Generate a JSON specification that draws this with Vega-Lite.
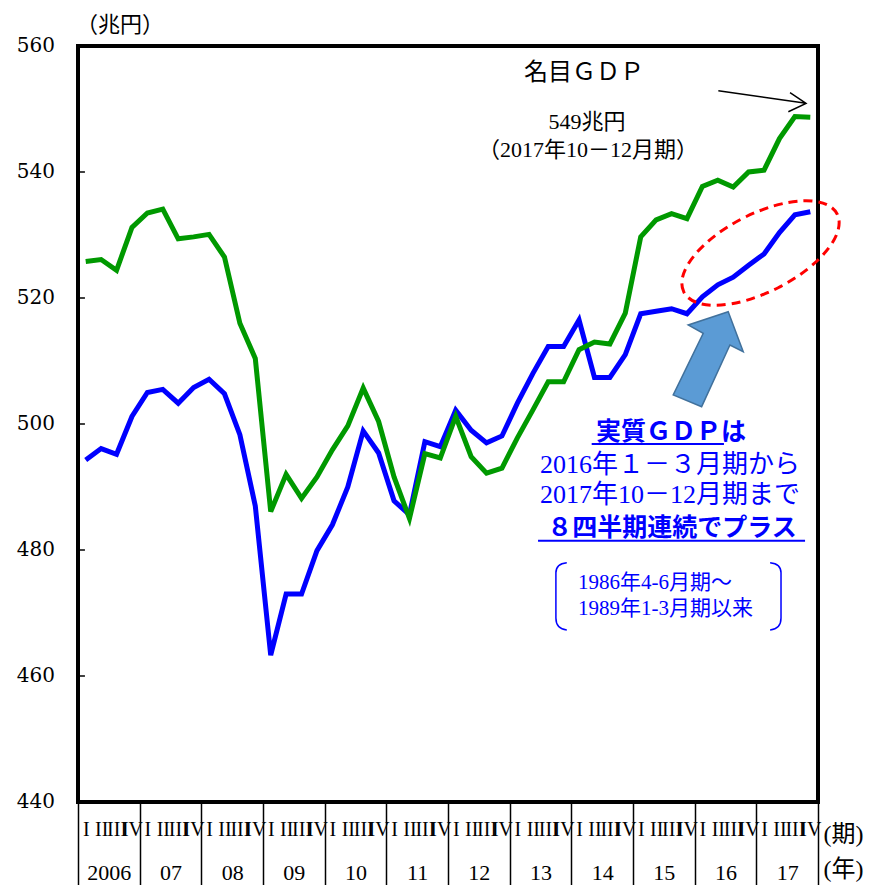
{
  "$schema": "https://vega.github.io/schema/vega-lite/v6.json",
  "width": 740,
  "height": 756,
  "autosize": {"type": "none"},
  "padding": {"left": 78, "top": 46, "right": 57, "bottom": 83},
  "background": "white",
  "config": {
    "view": {"stroke": "#000000", "strokeWidth": 4},
    "axis": {"labelFont": "Liberation Serif", "labelColor": "#000000", "grid": false, "domain": false}
  },
  "datasets": {
    "real": [
      {"x":0.5,"y":494.3},{"x":1.5,"y":496.1},{"x":2.5,"y":495.2},{"x":3.5,"y":501.2},
      {"x":4.5,"y":505.0},{"x":5.5,"y":505.5},{"x":6.5,"y":503.3},{"x":7.5,"y":505.8},
      {"x":8.5,"y":507.1},{"x":9.5,"y":504.8},{"x":10.5,"y":498.3},{"x":11.5,"y":487.0},
      {"x":12.5,"y":463.3},{"x":13.5,"y":473.0},{"x":14.5,"y":473.0},{"x":15.5,"y":479.9},
      {"x":16.5,"y":484.0},{"x":17.5,"y":490.0},{"x":18.5,"y":498.9},{"x":19.5,"y":495.4},
      {"x":20.5,"y":487.8},{"x":21.5,"y":485.6},{"x":22.5,"y":497.2},{"x":23.5,"y":496.4},
      {"x":24.5,"y":502.2},{"x":25.5,"y":499.0},{"x":26.5,"y":497.0},{"x":27.5,"y":498.1},
      {"x":28.5,"y":503.3},{"x":29.5,"y":508.0},{"x":30.5,"y":512.3},{"x":31.5,"y":512.3},
      {"x":32.5,"y":516.5},{"x":33.5,"y":507.4},{"x":34.5,"y":507.4},{"x":35.5,"y":511.0},
      {"x":36.5,"y":517.5},{"x":37.5,"y":517.9},{"x":38.5,"y":518.3},{"x":39.5,"y":517.5},
      {"x":40.5,"y":520.2},{"x":41.5,"y":522.1},{"x":42.5,"y":523.3},{"x":43.5,"y":525.2},
      {"x":44.5,"y":527.0},{"x":45.5,"y":530.4},{"x":46.5,"y":533.2},{"x":47.5,"y":533.7}
    ],
    "nominal": [
      {"x":0.5,"y":525.8},{"x":1.5,"y":526.1},{"x":2.5,"y":524.4},{"x":3.5,"y":531.2},
      {"x":4.5,"y":533.5},{"x":5.5,"y":534.1},{"x":6.5,"y":529.4},{"x":7.5,"y":529.7},
      {"x":8.5,"y":530.1},{"x":9.5,"y":526.5},{"x":10.5,"y":516.0},{"x":11.5,"y":510.4},
      {"x":12.5,"y":486.1},{"x":13.5,"y":492.0},{"x":14.5,"y":488.2},{"x":15.5,"y":491.6},
      {"x":16.5,"y":495.9},{"x":17.5,"y":499.7},{"x":18.5,"y":505.7},{"x":19.5,"y":500.4},
      {"x":20.5,"y":491.6},{"x":21.5,"y":485.0},{"x":22.5,"y":495.3},{"x":23.5,"y":494.6},
      {"x":24.5,"y":501.2},{"x":25.5,"y":494.8},{"x":26.5,"y":492.2},{"x":27.5,"y":493.0},
      {"x":28.5,"y":497.8},{"x":29.5,"y":502.2},{"x":30.5,"y":506.7},{"x":31.5,"y":506.7},
      {"x":32.5,"y":511.8},{"x":33.5,"y":513.0},{"x":34.5,"y":512.7},{"x":35.5,"y":517.6},
      {"x":36.5,"y":529.7},{"x":37.5,"y":532.4},{"x":38.5,"y":533.4},{"x":39.5,"y":532.6},
      {"x":40.5,"y":537.7},{"x":41.5,"y":538.7},{"x":42.5,"y":537.6},{"x":43.5,"y":540.0},
      {"x":44.5,"y":540.3},{"x":45.5,"y":545.3},{"x":46.5,"y":548.8},{"x":47.5,"y":548.7}
    ],
    "yticks": [{"x":0,"x2":0.45,"y":460},{"x":0,"x2":0.45,"y":480},{"x":0,"x2":0.45,"y":500},{"x":0,"x2":0.45,"y":520},{"x":0,"x2":0.45,"y":540}],
    "ylabels": [{"x":0,"y":440,"t":"440"},{"x":0,"y":460,"t":"460"},{"x":0,"y":480,"t":"480"},{"x":0,"y":500,"t":"500"},{"x":0,"y":520,"t":"520"},{"x":0,"y":540,"t":"540"},{"x":0,"y":560,"t":"560"}]
  },
  "encoding": {
    "x": {"field": "x", "type": "quantitative", "scale": {"domain": [0, 48], "nice": false, "zero": false}, "axis": null},
    "y": {"field": "y", "type": "quantitative", "scale": {"domain": [440, 560], "nice": false, "zero": false}, "axis": null}
  },
  "resolve": {"axis": {"x": "independent", "y": "independent"}},
  "layer": [
    {
      "data": {"name": "real"},
      "mark": {"type": "line", "color": "#0000FF", "strokeWidth": 5},
      "encoding": {
        "x": {"field": "x", "type": "quantitative", "scale": {"domain": [0, 48], "nice": false, "zero": false},
          "axis": {"orient": "bottom", "title": null, "values": [2,6,10,14,18,22,26,30,34,38,42,46],
            "labelExpr": "datum.value == 2 ? '2006' : (floor((datum.value-2)/4) + 6 < 10 ? '0' : '') + (floor((datum.value-2)/4) + 6)",
            "ticks": false, "domain": false, "labelPadding": 60, "labelFontSize": 22, "labelFont": "Liberation Serif", "labelOverlap": false, "labelFlush": false, "labelBound": false}}
      }
    },
    {
      "data": {"name": "nominal"},
      "mark": {"type": "line", "color": "#009900", "strokeWidth": 5},
      "encoding": {
        "x": {"field": "x", "type": "quantitative", "scale": {"domain": [0, 48], "nice": false, "zero": false},
          "axis": {"orient": "bottom", "title": null,
            "values": [0.5,1.5,2.5,3.5,4.5,5.5,6.5,7.5,8.5,9.5,10.5,11.5,12.5,13.5,14.5,15.5,16.5,17.5,18.5,19.5,20.5,21.5,22.5,23.5,24.5,25.5,26.5,27.5,28.5,29.5,30.5,31.5,32.5,33.5,34.5,35.5,36.5,37.5,38.5,39.5,40.5,41.5,42.5,43.5,44.5,45.5,46.5,47.5],
            "labelExpr": "['I','II','III','IV'][floor(datum.value) % 4]",
            "ticks": false, "domain": false, "labelPadding": 17, "labelFontSize": 20, "labelFont": "Liberation Serif", "labelOverlap": false, "labelFlush": false, "labelBound": false}}
      }
    },
    {
      "data": {"name": "yticks"},
      "mark": {"type": "rule", "color": "#000000", "strokeWidth": 1.5},
      "encoding": {"x2": {"field": "x2"}}
    },
    {
      "data": {"name": "ylabels"},
      "mark": {"type": "text", "font": "DejaVu Serif", "fontSize": 20, "color": "#000000", "align": "right", "baseline": "middle", "dx": -23},
      "encoding": {"text": {"field": "t", "type": "nominal"}}
    },
    {
      "data": {"values": [
        {"x": 33.02, "y": 547.94, "t": "549兆円"},
        {"x": 33.08, "y": 543.49, "t": "（2017年10－12月期）"}
      ]},
      "mark": {"type": "text", "font": "Liberation Serif, Noto Sans CJK JP", "fontSize": 22, "color": "#000000", "align": "center", "baseline": "middle"},
      "encoding": {
        "x": {"field": "x", "type": "quantitative", "scale": {"domain": [0, 48], "nice": false, "zero": false},
          "axis": {"orient": "bottom", "title": null, "values": [0,4,8,12,16,20,24,28,32,36,40,44,48],
            "labels": false, "domain": false, "ticks": true, "tickSize": 83, "tickWidth": 1.5, "tickColor": "#000000"}},
        "text": {"field": "t", "type": "nominal"}
      }
    },
    {
      "data": {"values": [
        {"x": 49.65, "y": 434.76, "t": "(期)"},
        {"x": 49.65, "y": 429.21, "t": "(年)"}
      ]},
      "mark": {"type": "text", "font": "Liberation Serif, Noto Sans CJK JP", "fontSize": 24, "color": "#000000", "align": "center", "baseline": "middle"},
      "encoding": {"text": {"field": "t", "type": "nominal"}}
    },
    {
      "data": {"values": [{"x": 32.82, "y": 555.71, "t": "名目ＧＤＰ"}]},
      "mark": {"type": "text", "font": "Liberation Serif, Noto Sans CJK JP", "fontSize": 24, "color": "#000000", "align": "center", "baseline": "middle"},
      "encoding": {"text": {"field": "t", "type": "nominal"}}
    },
    {
      "data": {"values": [{"x": 2.72, "y": 563.33, "t": "（兆円）"}]},
      "mark": {"type": "text", "font": "Liberation Serif, Noto Sans CJK JP", "fontSize": 22, "color": "#000000", "align": "center", "baseline": "middle"},
      "encoding": {"text": {"field": "t", "type": "nominal"}}
    },
    {
      "data": {"values": [
        {"x": 38.46, "y": 498.73, "t": "実質ＧＤＰは"},
        {"x": 38.53, "y": 483.57, "t": "８四半期連続でプラス"}
      ]},
      "mark": {"type": "text", "font": "Noto Sans CJK JP", "fontWeight": "bold", "fontSize": 25, "color": "#0000FF", "align": "center", "baseline": "middle"},
      "encoding": {"text": {"field": "t", "type": "nominal"}}
    },
    {
      "data": {"values": [
        {"x": 38.40, "y": 493.49, "t": "2016年１－３月期から"},
        {"x": 38.40, "y": 488.73, "t": "2017年10－12月期まで"}
      ]},
      "mark": {"type": "text", "font": "Liberation Serif, Noto Sans CJK JP", "fontSize": 26, "color": "#0000FF", "align": "center", "baseline": "middle"},
      "encoding": {"text": {"field": "t", "type": "nominal"}}
    },
    {
      "data": {"values": [
        {"x": 32.43, "y": 474.76, "t": "1986年4-6月期～"},
        {"x": 32.43, "y": 470.63, "t": "1989年1-3月期以来"}
      ]},
      "mark": {"type": "text", "font": "Liberation Serif, Noto Sans CJK JP", "fontSize": 21, "color": "#0000FF", "align": "left", "baseline": "middle"},
      "encoding": {"text": {"field": "t", "type": "nominal"}}
    },
    {
      "data": {"values": [
        {"x": 33.32, "x2": 41.90, "y": 496.83},
        {"x": 29.84, "x2": 47.16, "y": 481.48}
      ]},
      "mark": {"type": "rule", "color": "#0000FF", "strokeWidth": 2},
      "encoding": {"x2": {"field": "x2"}}
    },
    {
      "data": {"values": [{"x": 44.27, "y": 527.14}]},
      "mark": {"type": "point", "shape": "M -1 0 A 1 0.453 0 1 1 1 0 A 1 0.453 0 1 1 -1 0 Z", "size": 29584, "angle": 333,
        "filled": false, "stroke": "#FF0000", "strokeWidth": 3, "strokeDash": [9, 6], "opacity": 1}
    },
    {
      "data": {"values": [{"x": 40.86, "y": 510.32}]},
      "mark": {"type": "point", "shape": "M 0.406 -0.946 L 0.706 -0.146 L 0.44 -0.28 L -0.126 0.954 L -0.694 0.72 L -0.094 -0.514 L -0.394 -0.68 Z",
        "size": 10000, "filled": true, "fill": "#5B9BD5", "stroke": "#41719C", "strokeWidth": 1.5, "opacity": 1, "fillOpacity": 1}
    },
    {
      "data": {"values": [{"x": 44.37, "y": 551.90}]},
      "mark": {"type": "point", "shape": "M -0.874 -0.126 L 0.88 0.126 M 0.56 -0.086 L 0.88 0.126 L 0.526 0.294",
        "size": 10000, "filled": false, "stroke": "#000000", "strokeWidth": 1.5, "opacity": 1}
    },
    {
      "data": {"values": [{"x": 31.33, "y": 472.70}]},
      "mark": {"type": "point", "shape": "M 0.17 -0.98 Q -0.15 -0.95 -0.15 -0.68 L -0.15 0.65 Q -0.15 0.97 0.17 1",
        "size": 4624, "filled": false, "stroke": "#0000FF", "strokeWidth": 1.5, "opacity": 1}
    },
    {
      "data": {"values": [{"x": 45.27, "y": 472.70}]},
      "mark": {"type": "point", "shape": "M -0.17 -0.98 Q 0.15 -0.95 0.15 -0.68 L 0.15 0.65 Q 0.15 0.97 -0.17 1",
        "size": 4624, "filled": false, "stroke": "#0000FF", "strokeWidth": 1.5, "opacity": 1}
    }
  ]
}
